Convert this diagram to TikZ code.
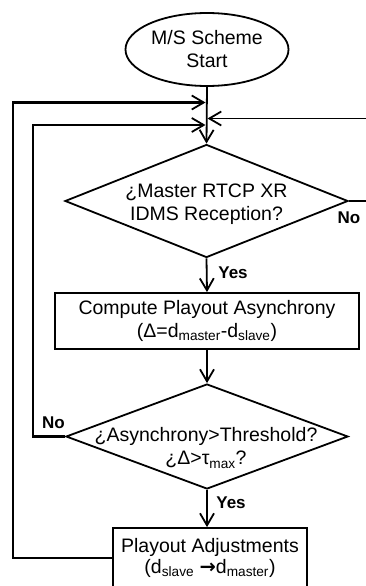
\documentclass[tikz,border=0pt]{standalone}
\usepackage{fontspec}
\setmainfont{Liberation Sans}
\newfontfamily\arrowfont{DejaVu Sans}
\usetikzlibrary{shapes.geometric,arrows.meta}
\begin{document}
\begin{tikzpicture}[x=1pt,y=-1pt,
  every node/.style={font=\fontsize{19.5}{23}\selectfont, text=black},
  shapeline/.style={draw=black, line width=1.8pt},
  conn/.style={draw=black, line width=1.8pt, -{Straight Barb[length=12pt,width=14pt,line width=1.8pt]}},
  loopline/.style={draw=black, line width=2.5pt, -{Straight Barb[length=12pt,width=14pt,line width=1.8pt]}},
  lbl/.style={font=\fontsize{17}{20}\selectfont\bfseries, inner sep=0pt},
  txt/.style={align=center, inner sep=0pt}
]
\useasboundingbox (0,0) rectangle (366,586);

% shapes
\node[ellipse, shapeline, minimum width=163pt, minimum height=73pt, inner sep=0pt, align=center] (start) at (207,49.5) {M/S Scheme\\Start};

\node[diamond, shapeline, minimum width=283pt, minimum height=113pt, inner sep=0pt] (q1) at (206.5,201) {};
\node[txt] (q1t) at (206.5,204) {¿Master RTCP XR\\IDMS Reception?};

\node[rectangle, shapeline, minimum width=304pt, minimum height=56pt, inner sep=0pt, align=center] (b1) at (207,321) {Compute Playout Asynchrony\\(Δ=d\textsubscript{master}-d\textsubscript{slave})};

\node[diamond, shapeline, minimum width=282pt, minimum height=105pt, inner sep=0pt] (q2) at (207,436.5) {};
\node[txt] (q2t) at (206,448) {¿Asynchrony>Threshold?\\¿Δ>τ\textsubscript{max}?};

\node[rectangle, shapeline, minimum width=194pt, minimum height=59pt, inner sep=0pt, align=center] (b2) at (210,557.5) {Playout Adjustments\\[-2pt](d\textsubscript{slave} {\arrowfont\bfseries →}d\textsubscript{master})};

% labels
\node[lbl] (yes1) at (233,273) {Yes};
\node[lbl] (yes2) at (231,503) {Yes};
\node[lbl] (no1) at (349,218) {No};
\node[lbl] (no2) at (53.5,423) {No};

% junction coordinates on the main line
\coordinate (jA) at (205.5,102.5);
\coordinate (jB) at (205.5,125);
\coordinate (jR) at (207.5,118.5);
\coordinate (cR1) at (372,201);
\coordinate (cR2) at (372,118.5);
\coordinate (cA1) at (13,558);
\coordinate (cA2) at (13,102.5);
\coordinate (cB1) at (33,436.5);
\coordinate (cB2) at (33,125);

% connectors
\draw[conn] (start.south) -- (q1.north);
\draw[conn] (q1.south) -- (b1.north);
\draw[conn] (b1.south) -- (q2.north);
\draw[conn] (q2.south) -- (q2.south |- b2.north);
\draw[conn] (q1.east) -- (cR1) -- (cR2) -- (jR);
\draw[loopline] (b2.west |- cA1) -- (cA1) -- (cA2) -- (jA);
\draw[loopline] (q2.west) -- (cB1) -- (cB2) -- (jB);
\end{tikzpicture}
\end{document}
